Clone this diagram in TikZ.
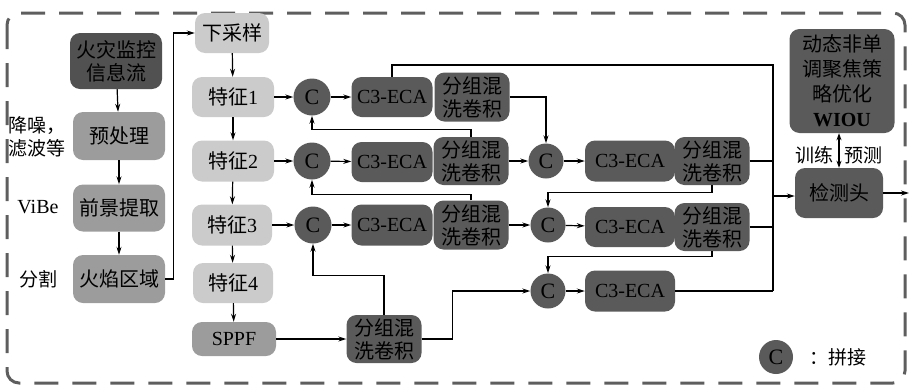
\documentclass[tikz,border=0pt]{standalone}
\usepackage{fontspec}
\setmainfont{Liberation Serif}
\newfontfamily\cjk{Noto Sans CJK SC}
\usetikzlibrary{arrows.meta}
\newcommand\zh[1]{{\cjk #1}}
\definecolor{darkbox}{HTML}{5A5A5A}
\definecolor{darkerbox}{HTML}{515151}
\definecolor{midbox}{HTML}{9C9C9C}
\definecolor{lightbox}{HTML}{CBCBCB}
\definecolor{frame}{HTML}{5E5E5E}
\begin{document}
\begin{tikzpicture}[x=1pt,y=-1pt,
  box/.style={rounded corners=10pt,inner sep=0pt,align=center,font=\fontsize{20}{23}\selectfont},
  darknode/.style={box,fill=darkbox},
  midnode/.style={box,fill=midbox},
  lightnode/.style={box,fill=lightbox},
  catnode/.style={circle,fill=darkbox,minimum size=37pt,inner sep=0pt,font=\fontsize{22}{24}\selectfont},
  arr/.style={-{Stealth[length=8pt,width=5pt]},line width=1.2pt},
  ln/.style={line width=1.2pt},
  lbl/.style={font=\fontsize{19}{23}\selectfont,align=left,inner sep=0pt}]
\useasboundingbox (0,0) rectangle (909,386);
\draw[frame,line width=3pt,dash pattern=on 24pt off 14pt,rounded corners=12pt] (7,13) rectangle (905,383);

% input processing column
\node[darknode,fill=darkerbox,minimum width=92pt,minimum height=56pt] (info) at (116,61) {\zh{火灾监控}\\\zh{信息流}};
\node[midnode,minimum width=92pt,minimum height=48pt] (pre) at (119,136) {\zh{预处理}};
\node[midnode,minimum width=92pt,minimum height=47pt] (fg) at (119,208) {\zh{前景提取}};
\node[midnode,minimum width=92pt,minimum height=48pt] (fire) at (119,279) {\zh{火焰区域}};
\node[lbl] (l1) at (37,137) {\zh{降噪，}\\\zh{滤波等}};
\node[lbl,font=\fontsize{20}{23}\selectfont] (l2) at (38,207) {ViBe};
\node[lbl] (l3) at (38,279) {\zh{分割}};

% backbone
\node[lightnode,minimum width=74pt,minimum height=40pt] (down) at (232,33) {\zh{下采样}};
\node[lightnode,minimum width=82pt,minimum height=40pt] (f1) at (233,97) {\zh{特征}1};
\node[lightnode,minimum width=82pt,minimum height=41pt] (f2) at (233,161) {\zh{特征}2};
\node[lightnode,minimum width=80pt,minimum height=41pt] (f3) at (232,225) {\zh{特征}3};
\node[lightnode,minimum width=80pt,minimum height=40pt] (f4) at (233,283) {\zh{特征}4};
\node[midnode,minimum width=84pt,minimum height=34pt] (sppf) at (234,339) {SPPF};

% neck, first column
\node[catnode] (c1) at (312,97) {C};
\node[catnode] (c2) at (312,161) {C};
\node[catnode] (c3) at (313,225) {C};
\node[darknode,minimum width=81pt,minimum height=40pt] (e1) at (392,97) {C3-ECA};
\node[darknode,minimum width=81pt,minimum height=40pt] (e2) at (392,162) {C3-ECA};
\node[darknode,minimum width=81pt,minimum height=41pt] (e3) at (392,225) {C3-ECA};
\node[darknode,minimum width=75pt,minimum height=49pt] (g1) at (472,97) {\zh{分组混}\\\zh{洗卷积}};
\node[darknode,minimum width=75pt,minimum height=48pt] (g2) at (471,161) {\zh{分组混}\\\zh{洗卷积}};
\node[darknode,minimum width=75pt,minimum height=49pt] (g3) at (471,225) {\zh{分组混}\\\zh{洗卷积}};
\node[darknode,minimum width=75pt,minimum height=48pt] (gb) at (384,339) {\zh{分组混}\\\zh{洗卷积}};

% neck, second column
\node[catnode,minimum size=35pt] (c5) at (546,161) {C};
\node[catnode,minimum size=35pt] (c6) at (548,225) {C};
\node[catnode,minimum size=35pt] (c7) at (548,291) {C};
\node[darknode,minimum width=90pt,minimum height=41pt] (e5) at (630,161) {C3-ECA};
\node[darknode,minimum width=90pt,minimum height=40pt] (e6) at (630,227) {C3-ECA};
\node[darknode,minimum width=90pt,minimum height=41pt] (e7) at (630,291) {C3-ECA};
\node[darknode,minimum width=75pt,minimum height=48pt] (g5) at (712,161) {\zh{分组混}\\\zh{洗卷积}};
\node[darknode,minimum width=75pt,minimum height=48pt] (g6) at (712,227) {\zh{分组混}\\\zh{洗卷积}};

% head
\node[darknode,minimum width=88pt,minimum height=50pt] (head) at (839,193) {\zh{检测头}};
\node[darknode,minimum width=105pt,minimum height=104pt,font=\fontsize{20}{25}\selectfont] (wiou) at (842,81) {\zh{动态非单}\\\zh{调聚焦策}\\\zh{略优化}\\\textbf{WIOU}};
\node[lbl] (train) at (814,155) {\zh{训练}};
\node[lbl] (pred) at (863,155) {\zh{预测}};

% legend
\node[catnode,minimum size=34pt] (lc) at (776,357) {C};
\node[lbl] (lt) at (838,357) {\zh{：拼接}};

\coordinate (out) at (909,193);

% connections: preprocessing
\draw[arr] (info) -- (pre);
\draw[arr] (pre) -- (fg);
\draw[arr] (fg) -- (fire);
\draw[arr] (fire.east) -- ++(8,0) |- (down.west);
\draw[arr] (down) -- (f1);
\draw[arr] (f1) -- (f2);
\draw[arr] (f2) -- (f3);
\draw[arr] (f3) -- (f4);
\draw[arr] (f4) -- (sppf);

% connections: rows
\draw[arr] (f1) -- (c1);
\draw[arr] (f2) -- (c2);
\draw[arr] (f3) -- (c3);
\draw[arr] (c1) -- (e1);
\draw[arr] (c2) -- (e2);
\draw[arr] (c3) -- (e3);
\draw[arr] (sppf) -- (gb);
\draw[arr] (g2.east) -- (c5.west);
\draw[arr] (g3.east) -- (c6.west);
\draw[arr] (c5) -- (e5);
\draw[arr] (c6) -- (e6);
\draw[arr] (c7) -- (e7);

% upward feedback
\draw[arr] (g2.north) -- ++(0,-7) -| (c1.south);
\draw[arr] (g3.north) -- ++(0,-6) -| (c2.south);
\draw[arr] (gb.north) -- ++(0,-39) -| (c3.south);

% downward paths
\draw[arr] (g1.east) -| (c5.north);
\draw[arr] (g5.south) -- ++(0,7) -| (c6.north);
\draw[arr] (g6.south) -- ++(0,5) -| (c7.north);
\draw[arr] (gb.east) -- ++(31,0) |- (c7.west);

% collection bus to the head
\coordinate (bus) at (773,196);
\draw[ln] (e1.north) |- (773,65) -- (773,291);
\draw[ln] (g5.east) -- (773,161);
\draw[ln] (g6.east) -- (773,227);
\draw[ln] (e7.east) -- (773,291);
\draw[arr] (bus) -- (head.west |- bus);
\draw[arr] (head.east) -- (out);
\draw[{Stealth[length=7pt,width=5pt]}-{Stealth[length=7pt,width=5pt]},line width=1.2pt] (wiou.south -| head.north) -- (head.north);
\end{tikzpicture}
\end{document}
